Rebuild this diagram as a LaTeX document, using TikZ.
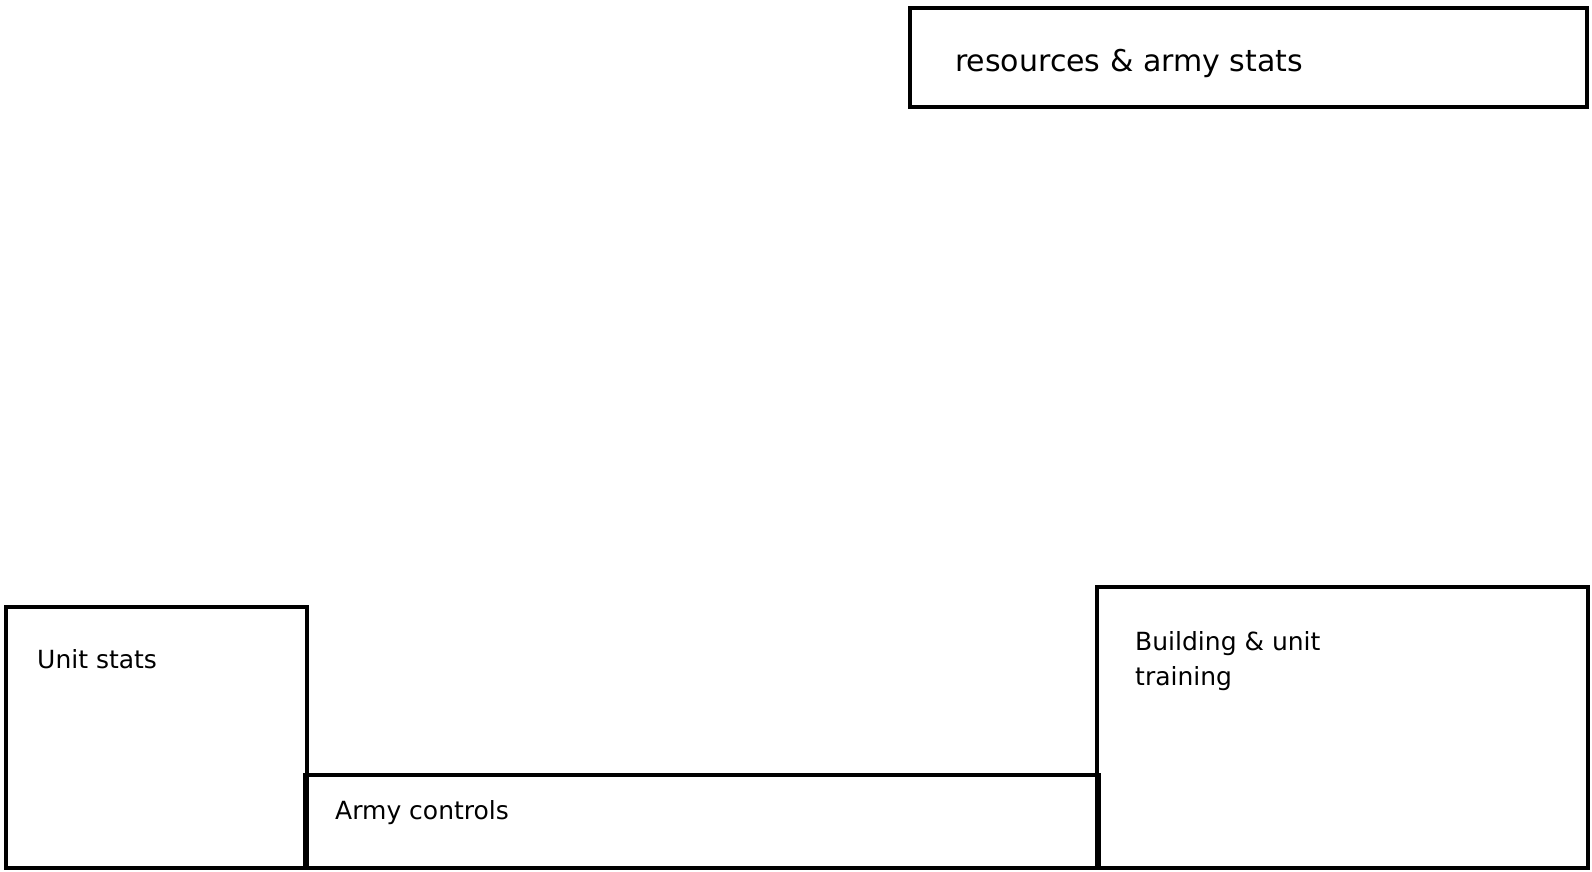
\documentclass[tikz,border=0pt]{standalone}
\usepackage{fontspec}
\setmainfont{DejaVu Sans}
\tikzset{
  panel/.style={line width=4.5pt,draw=black},
  label/.style={anchor=base west,inner sep=0pt,font=\fontsize{25}{35}\selectfont},
}
\begin{document}
\begin{tikzpicture}[x=1pt,y=-1pt]
        \useasboundingbox (0,0) rectangle (1592,872); % margins

        \draw[panel] (910,8) rectangle (1587,107); % top bar
        \draw[panel] (6,607) rectangle (307,868); % left
        \draw[panel] (305,775) rectangle (1099,868); % middle
        \draw[panel] (1097,587) rectangle (1588,868); % right

        \node[label,font=\fontsize{30}{36}\selectfont] (res) at (955,72) {resources \& army stats};
        \node[label] (unit) at (37,668) {Unit stats};
        \node[label] (army) at (335,819) {Army controls};
        \node[label,align=left] (build) at (1135,685) {Building \& unit\\training}; % base = last line
    \end{tikzpicture}
\end{document}
